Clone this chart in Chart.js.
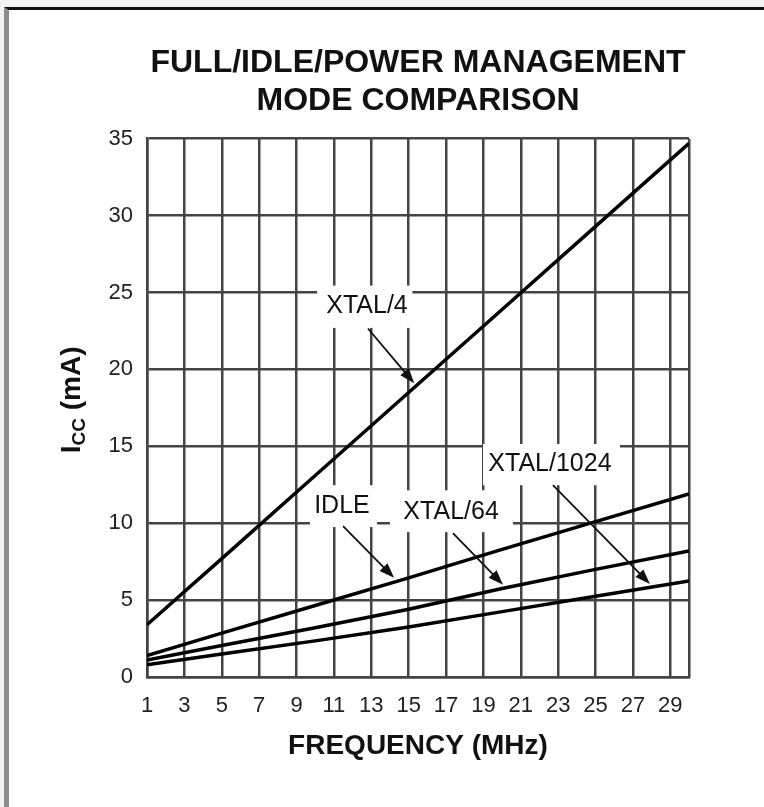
<!DOCTYPE html>
<html lang="en">
<head>
  <meta charset="utf-8">
  <title>Full/Idle/Power Management Mode Comparison</title>
  <script src="https://cdn.jsdelivr.net/npm/chart.js"></script>
  <style>
    html, body { margin: 0; padding: 0; background: #f3f3f3; }
    body { width: 764px; height: 807px; position: relative; overflow: hidden; }
    .frame { position: absolute; left: 4px; top: 7px; width: 820px; height: 840px; background: #fff;
             border-left: 5px solid #8c8c8c; border-top: 3px solid #111; }
    .wrap { position: absolute; left: 0; top: 0; }
  </style>
</head>

<body>
  <div class="frame"></div>
  <div class="wrap"><canvas id="myChart" width="764" height="807"></canvas></div>

  <script>
    // frequency (MHz) and supply current (mA)
    var freq = [1, 5, 10, 15, 20, 25, 30];
    var xtal4 = [3.4, 7.7, 13.1, 18.5, 23.9, 29.3, 34.7];
    var idle = [1.4, 2.85, 4.65, 6.45, 8.3, 10.1, 11.9];
    var xtal64 = [1.1, 2.05, 3.2, 4.4, 5.75, 7.0, 8.2];
    var xtal1024 = [0.8, 1.5, 2.35, 3.25, 4.25, 5.25, 6.25];

    var xTicks = [1, 3, 5, 7, 9, 11, 13, 15, 17, 19, 21, 23, 25, 27, 29, 30];
    var yTicks = [0, 5, 10, 15, 20, 25, 30, 35];

    // callout labels, in data units: box [x1, y1, x2, y2], text at, arrow from -> to
    var notes = [
      { text: 'XTAL/4', box: [10.1, 22.7, 15.2, 25.45], at: [12.77, 24.1], from: [12.82, 22.66], to: [15.3, 19.1] },
      { text: 'IDLE', box: [9.72, 9.75, 13.31, 12.47], at: [11.43, 11.1], from: [11.49, 9.81], to: [14.22, 6.45] },
      { text: 'XTAL/64', box: [14.0, 9.42, 20.58, 12.14], at: [17.27, 10.71], from: [17.37, 9.35], to: [20.05, 6.0] },
      { text: 'XTAL/1024', box: [18.98, 12.47, 26.31, 15.15], at: [22.56, 13.83], from: [22.72, 12.47], to: [27.91, 6.05] }
    ];

    function pts(ys) {
      return freq.map(function (f, i) { return { x: f, y: ys[i] }; });
    }

    var calloutBoxes = {
      id: 'calloutBoxes',
      beforeDatasetsDraw: function (chart) {
        var c = chart.ctx, sx = chart.scales.x, sy = chart.scales.y;
        c.save();
        c.fillStyle = '#fff';
        notes.forEach(function (n) {
          var x1 = sx.getPixelForValue(n.box[0]), x2 = sx.getPixelForValue(n.box[2]);
          var y1 = sy.getPixelForValue(n.box[3]), y2 = sy.getPixelForValue(n.box[1]);
          c.fillRect(x1, y1, x2 - x1, y2 - y1);
        });
        c.restore();
      },
      afterDatasetsDraw: function (chart) {
        var c = chart.ctx, sx = chart.scales.x, sy = chart.scales.y;
        c.save();
        c.fillStyle = '#111';
        c.strokeStyle = '#111';
        c.font = '25px "Liberation Sans", Arial, sans-serif';
        c.textAlign = 'center';
        c.textBaseline = 'middle';
        notes.forEach(function (n) {
          c.fillText(n.text, sx.getPixelForValue(n.at[0]), sy.getPixelForValue(n.at[1]));
          var ax = sx.getPixelForValue(n.from[0]), ay = sy.getPixelForValue(n.from[1]);
          var bx = sx.getPixelForValue(n.to[0]), by = sy.getPixelForValue(n.to[1]);
          var ang = Math.atan2(by - ay, bx - ax);
          var len = 15, hw = 5.5;
          c.lineWidth = 1.8;
          c.beginPath();
          c.moveTo(ax, ay);
          c.lineTo(bx - Math.cos(ang) * len * 0.8, by - Math.sin(ang) * len * 0.8);
          c.stroke();
          c.beginPath();
          c.moveTo(bx, by);
          c.lineTo(bx - Math.cos(ang) * len - Math.sin(ang) * hw, by - Math.sin(ang) * len + Math.cos(ang) * hw);
          c.lineTo(bx - Math.cos(ang) * len + Math.sin(ang) * hw, by - Math.sin(ang) * len - Math.cos(ang) * hw);
          c.closePath();
          c.fill();
        });
        c.restore();
      }
    };

    // y title with subscript: I_CC (mA)
    var yTitle = {
      id: 'yTitle',
      afterDraw: function (chart) {
        var c = chart.ctx, a = chart.chartArea;
        var big = 'bold 28px "Liberation Sans", Arial, sans-serif';
        var small = 'bold 19px "Liberation Sans", Arial, sans-serif';
        c.save();
        c.font = big;
        var w1 = c.measureText('I').width, w3 = c.measureText(' (mA)').width;
        c.font = small;
        var w2 = c.measureText('CC').width;
        var total = w1 + w2 + w3;
        c.translate(80, (a.top + a.bottom) / 2 - 8);
        c.rotate(-Math.PI / 2);
        c.fillStyle = '#111';
        c.textBaseline = 'alphabetic';
        c.textAlign = 'left';
        var x = -total / 2;
        c.font = big;
        c.fillText('I', x, 0);
        x += w1;
        c.font = small;
        c.fillText('CC', x, 5);
        x += w2;
        c.font = big;
        c.fillText(' (mA)', x, 0);
        c.restore();
      }
    };

    var ctx = document.getElementById('myChart').getContext('2d');
    var lineStyle = { borderColor: '#000', borderWidth: 3.5, pointRadius: 0, tension: 0, fill: false };
    var myChart = new Chart(ctx, {
      type: 'line',
      data: {
        datasets: [
          Object.assign({ label: 'XTAL/4', data: pts(xtal4) }, lineStyle),
          Object.assign({ label: 'IDLE', data: pts(idle) }, lineStyle),
          Object.assign({ label: 'XTAL/64', data: pts(xtal64) }, lineStyle),
          Object.assign({ label: 'XTAL/1024', data: pts(xtal1024) }, lineStyle)
        ]
      },
      plugins: [calloutBoxes, yTitle],
      options: {
        responsive: false,
        animation: false,
        devicePixelRatio: 1,
        layout: { padding: { left: 87, right: 75, top: 0, bottom: 40 } },
        plugins: {
          legend: { display: false },
          tooltip: { enabled: false },
          title: {
            display: true,
            fullSize: false,
            text: ['FULL/IDLE/POWER MANAGEMENT', 'MODE COMPARISON'],
            color: '#111',
            font: { family: '"Liberation Sans", Arial, sans-serif', size: 32, weight: 'bold', lineHeight: 1.16 },
            padding: { top: 45, bottom: 19.5 }
          }
        },
        scales: {
          x: {
            type: 'linear',
            min: 1,
            max: 30,
            afterBuildTicks: function (s) { s.ticks = xTicks.map(function (v) { return { value: v }; }); },
            afterFit: function (s) { s.height = 90; },
            ticks: {
              autoSkip: false,
              maxRotation: 0,
              padding: 16,
              color: '#222',
              font: { family: '"Liberation Sans", Arial, sans-serif', size: 22 },
              callback: function (v) { return v === 30 ? '' : v; }
            },
            grid: { color: '#444', lineWidth: 2.5, drawTicks: false },
            border: { color: '#444', width: 2.5 },
            title: {
              display: true,
              text: 'FREQUENCY (MHz)',
              color: '#111',
              font: { family: '"Liberation Sans", Arial, sans-serif', size: 28, weight: 'bold', lineHeight: 1.2 },
              padding: { top: 0, bottom: 4 }
            }
          },
          y: {
            min: 0,
            max: 35,
            afterBuildTicks: function (s) { s.ticks = yTicks.map(function (v) { return { value: v }; }); },
            afterFit: function (s) { s.width = 60; },
            ticks: {
              padding: 14,
              color: '#222',
              font: { family: '"Liberation Sans", Arial, sans-serif', size: 22 }
            },
            grid: { color: '#444', lineWidth: 2.5, drawTicks: false },
            border: { color: '#444', width: 2.5 }
          }
        }
      }
    });
  </script>
</body>

</html>
